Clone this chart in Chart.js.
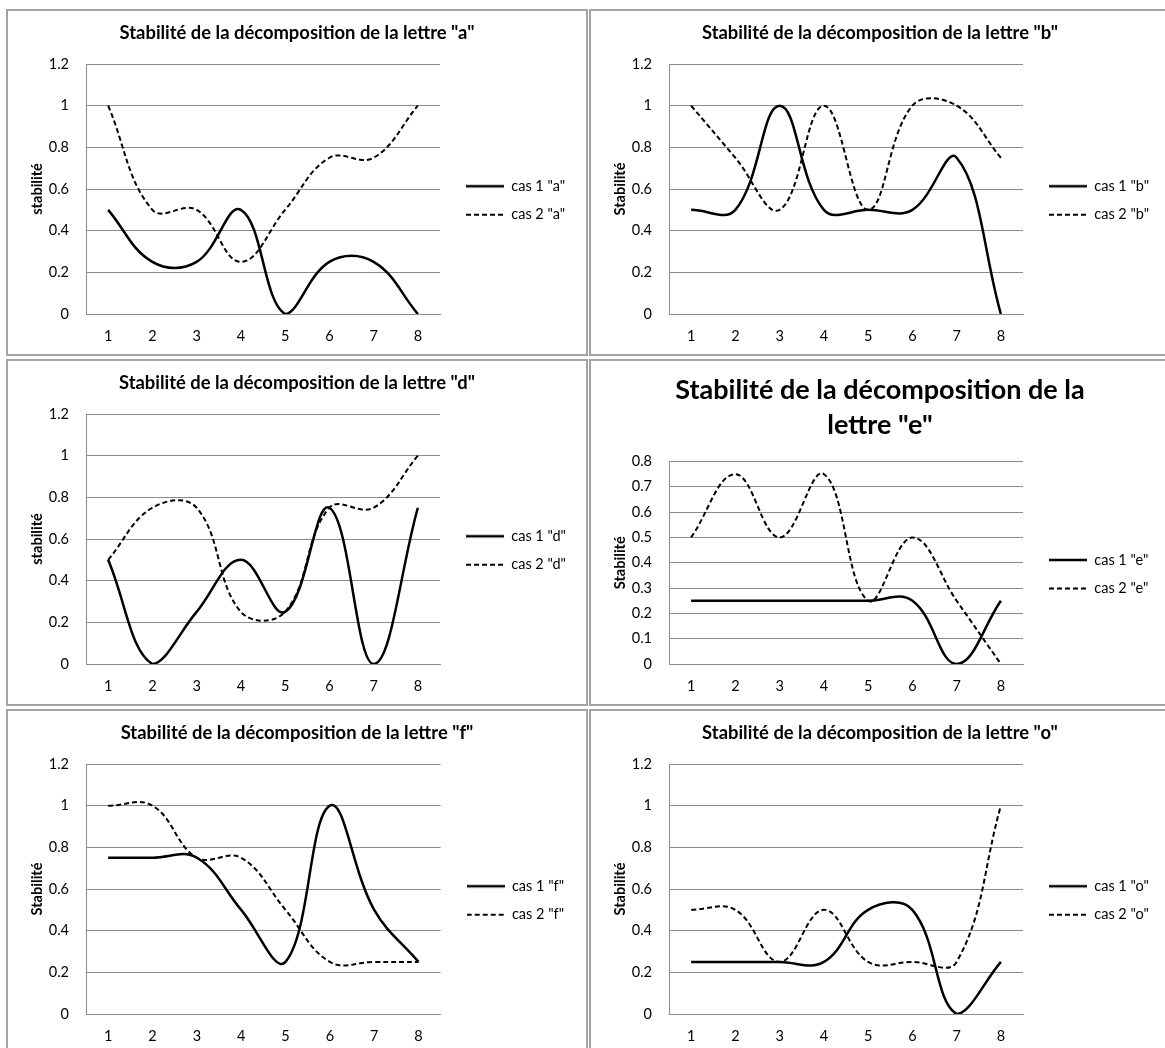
<!DOCTYPE html>
<html>
<head>
<meta charset="utf-8">
<script src="https://cdn.jsdelivr.net/npm/chart.js@4/dist/chart.umd.min.js"></script>
<style>
  body { margin: 0; background: #fff; width: 1165px; height: 1048px; overflow: hidden; position: relative; }
  .panel { position: absolute; width: 582px; height: 347px; box-sizing: border-box; border: 2px solid #a3a3a3; background: #fff; }
  .panel canvas { position: absolute; left: 0; top: 0; }
</style>
</head>
<body>
<div class="panel" style="left:6px;top:9px"><canvas id="chartA" width="578" height="343"></canvas></div>
<div class="panel" style="left:589px;top:9px"><canvas id="chartB" width="578" height="343"></canvas></div>
<div class="panel" style="left:6px;top:359px"><canvas id="chartD" width="578" height="343"></canvas></div>
<div class="panel" style="left:589px;top:359px"><canvas id="chartE" width="578" height="343"></canvas></div>
<div class="panel" style="left:6px;top:709px"><canvas id="chartF" width="578" height="343"></canvas></div>
<div class="panel" style="left:589px;top:709px"><canvas id="chartO" width="578" height="343"></canvas></div>
<script>
const xLabels = ["1", "2", "3", "4", "5", "6", "7", "8"];

const aCas1 = [0.5, 0.25, 0.25, 0.5, 0, 0.25, 0.25, 0];
const aCas2 = [1, 0.5, 0.5, 0.25, 0.5, 0.75, 0.75, 1];
const bCas1 = [0.5, 0.5, 1, 0.5, 0.5, 0.5, 0.75, 0];
const bCas2 = [1, 0.75, 0.5, 1, 0.5, 1, 1, 0.75];
const dCas1 = [0.5, 0, 0.25, 0.5, 0.25, 0.75, 0, 0.75];
const dCas2 = [0.5, 0.75, 0.75, 0.25, 0.25, 0.75, 0.75, 1];
const eCas1 = [0.25, 0.25, 0.25, 0.25, 0.25, 0.25, 0, 0.25];
const eCas2 = [0.5, 0.75, 0.5, 0.75, 0.25, 0.5, 0.25, 0];
const fCas1 = [0.75, 0.75, 0.75, 0.5, 0.25, 1, 0.5, 0.25];
const fCas2 = [1, 1, 0.75, 0.75, 0.5, 0.25, 0.25, 0.25];
const oCas1 = [0.25, 0.25, 0.25, 0.25, 0.5, 0.5, 0, 0.25];
const oCas2 = [0.5, 0.5, 0.25, 0.5, 0.25, 0.25, 0.25, 1];

const fontFamily = "Lato";
const gridColor = "#8c8c8c";
const solidDash = [];
const dashedDash = [5, 3];

// small legend sample: a line drawn on its own canvas, used as point style
function legendSwatch(dash, lineWidth) {
  const c = document.createElement("canvas");
  c.width = 38;
  c.height = 6;
  const ctx = c.getContext("2d");
  ctx.strokeStyle = "#000";
  ctx.lineWidth = lineWidth;
  ctx.setLineDash(dash);
  ctx.beginPath();
  ctx.moveTo(0, 3);
  ctx.lineTo(38, 3);
  ctx.stroke();
  return c;
}

function buildChart(id, letter, yTitle, cas1, cas2, yMax, yStep, big) {
  const titleText = big
    ? ["Stabilité de la décomposition de la", 'lettre "' + letter + '"']
    : 'Stabilité de la décomposition de la lettre "' + letter + '"';

  new Chart(document.getElementById(id), {
    type: "line",
    data: {
      labels: xLabels,
      datasets: [
        {
          label: 'cas 1 "' + letter + '"',
          data: cas1,
          borderColor: "#000",
          backgroundColor: "#000",
          borderWidth: 2.5,
          pointRadius: 0,
          pointStyle: legendSwatch(solidDash, 2.5),
          tension: 0.4,
        },
        {
          label: 'cas 2 "' + letter + '"',
          data: cas2,
          borderColor: "#000",
          backgroundColor: "#000",
          borderWidth: 2,
          borderDash: dashedDash,
          pointRadius: 0,
          pointStyle: legendSwatch(dashedDash, 2),
          tension: 0.4,
        },
      ],
    },
    options: {
      responsive: false,
      animation: false,
      events: [],
      layout: { padding: { left: 12, right: 12, top: 0, bottom: 0 } },
      plugins: {
        title: {
          display: true,
          text: titleText,
          color: "#000",
          font: big
            ? { family: fontFamily, size: 27, weight: "bold", lineHeight: "35px" }
            : { family: fontFamily, size: 18.4, weight: "bold", lineHeight: "22px" },
          padding: big ? { top: 11.5, bottom: 19 } : { top: 11, bottom: 20 },
        },
        legend: {
          position: "right",
          fullSize: false,
          maxWidth: 122,
          title: { display: true, text: "", font: { size: 14, lineHeight: "23px" }, padding: 0 },
          labels: {
            usePointStyle: true,
            pointStyleWidth: 38,
            padding: 14,
            color: "#000",
            font: { family: fontFamily, size: 14.5 },
          },
        },
        tooltip: { enabled: false },
      },
      scales: {
        x: {
          offset: true,
          grid: { display: false, drawTicks: false },
          border: { display: true, color: gridColor },
          ticks: { color: "#000", padding: 14, font: { family: fontFamily, size: 14.5 } },
          afterFit: (scale) => { scale.height = 40; },
        },
        y: {
          min: 0,
          max: yMax,
          grid: { color: gridColor, drawTicks: false },
          border: { display: true, color: gridColor },
          ticks: {
            stepSize: yStep,
            color: "#000",
            padding: 17,
            font: { family: fontFamily, size: 14.5 },
            callback: (value) => String(Number(value.toFixed(2))),
          },
          title: {
            display: true,
            text: yTitle,
            color: "#000",
            font: { family: fontFamily, size: 14.6, weight: "bold", lineHeight: "18px" },
            padding: { top: 8, bottom: 0 },
          },
          afterFit: (scale) => { scale.width = 66; },
        },
        gap: {
          type: "linear",
          position: "right",
          display: true,
          grid: { display: false, drawTicks: false },
          border: { display: false },
          ticks: { display: false },
          afterFit: (scale) => { scale.width = 12; },
        },
      },
    },
  });
}

buildChart("chartA", "a", "stabilité", aCas1, aCas2, 1.2, 0.2, false);
buildChart("chartB", "b", "Stabilité", bCas1, bCas2, 1.2, 0.2, false);
buildChart("chartD", "d", "stabilité", dCas1, dCas2, 1.2, 0.2, false);
buildChart("chartE", "e", "Stabilité", eCas1, eCas2, 0.8, 0.1, true);
buildChart("chartF", "f", "Stabilité", fCas1, fCas2, 1.2, 0.2, false);
buildChart("chartO", "o", "Stabilité", oCas1, oCas2, 1.2, 0.2, false);
</script>
</body>
</html>
